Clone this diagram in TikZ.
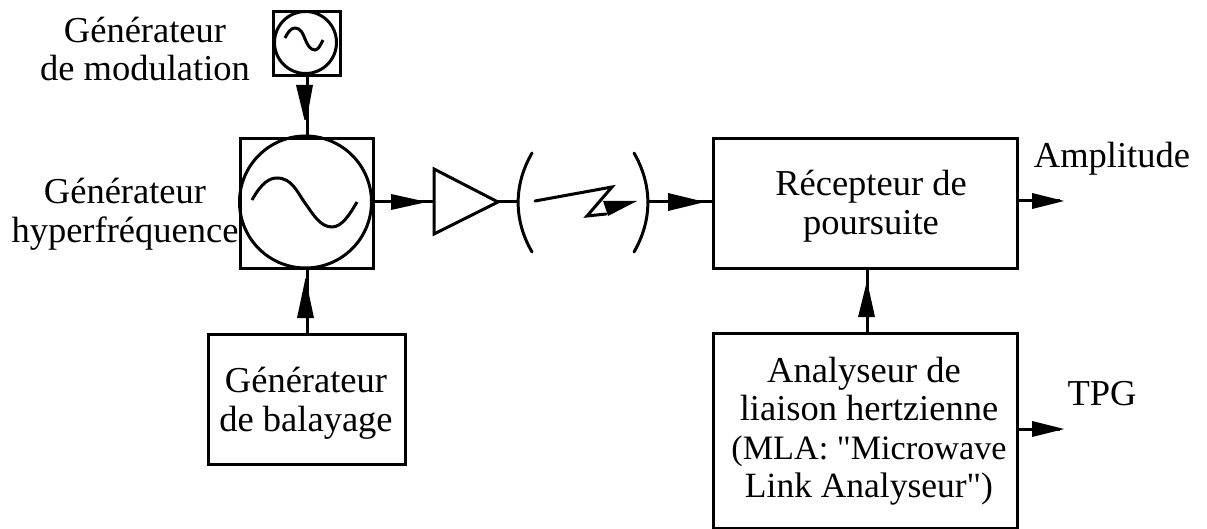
\documentclass[tikz,border=0pt]{standalone}
\usepackage{fontspec}
\setmainfont{Liberation Serif}[Ligatures=TeXOff]
\tikzset{
  every node/.style={font=\fontsize{36.5}{38.5}\selectfont, align=center, inner sep=0pt},
  ln/.style={line width=3pt, line join=miter},
  box/.style={ln, draw, rectangle, anchor=north west},
  osc/.style={ln, draw, circle, inner sep=0pt},
}
\begin{document}
\begin{tikzpicture}[x=1pt,y=-1pt]
\useasboundingbox (0,0) rectangle (1207,529);
\node[box, minimum width=67pt, minimum height=64.5pt] (smallbox) at (272,10) {};
\node[osc, minimum size=62pt] (smallosc) at (305.5,42.5) {};
\draw[ln] (285,38) .. controls (288,32) and (291,28) .. (295,28) .. controls (301,28) and (303,34) .. (305,39) .. controls (307,44) and (310,50) .. (315,50) .. controls (318,50) and (320,46) .. (323,40);
\node[box, minimum width=133pt, minimum height=130pt] (bigbox) at (239,137) {};
\node[osc, minimum size=132pt] (bigosc) at (305.5,202) {};
\draw[ln] (252,200) .. controls (262,182) and (270,178) .. (277,178) .. controls (292,178) and (297,192) .. (305,203) .. controls (313,214) and (320,227) .. (332,227) .. controls (342,227) and (350,214) .. (357,202);
\node[box, minimum width=197pt, minimum height=130pt] (sweep) at (207,333) {};
\node (sweeptxt) at (306,403) {Générateur\\de balayage};
\coordinate (tritop) at (434,169);
\coordinate (tribot) at (434,234);
\coordinate (triout) at (498,202);
\draw[ln] (tritop) -- (triout) -- (tribot) -- cycle;
\draw[ln] (smallbox.south) -- (smallbox.south |- bigbox.north);
\fill (296,85) -- (313,85) -- (306.5,120) -- (304.5,120) -- cycle;
\draw[ln] (sweep.north -| bigbox.south) -- (bigbox.south);
\fill (297,318) -- (314,318) -- (305.5,278) -- cycle;
\draw[ln] (bigbox.east |- bigosc.center) -- (tritop |- bigosc.center);
\fill (391,194) -- (391,210) -- (427,202) -- cycle;
\coordinate (aL) at (519,202);
\coordinate (aR) at (647,202);
\draw[ln] (triout) -- (aL);
\draw[ln, line cap=round] (532,153) .. controls (513.5,185) and (513.5,220) .. (532,252);
\draw[ln, line cap=round] (634,153) .. controls (652.5,185) and (652.5,220) .. (634,252);
\draw[ln, line cap=round] (535,201) -- (612,187) -- (587,216) -- (606,214);
\fill (603,201) -- (637,201) -- (608,216) -- cycle;
\node[box, minimum width=304pt, minimum height=130pt] (recv) at (712,137) {};
\node (recvtxt) at (871,206) {Récepteur de\\poursuite};
\draw[ln] (aR) -- (recv.west |- aR);
\fill (668,193) -- (668,211) -- (705,202) -- cycle;
\node[box, minimum width=304pt, minimum height=195pt] (mla) at (712,332) {};
\node (mlatxt) at (869,431) {Analyseur de\hspace*{10pt}\\liaison hertzienne\\{\fontsize{34.2}{38.5}\selectfont (MLA: "Microwave}\\{\fontsize{35.5}{38.5}\selectfont Link Analyseur")}};
\coordinate (recvin) at (867,267);
\draw[ln] (recv.south -| recvin) -- (mla.north -| recvin);
\fill (858,317) -- (875,317) -- (867,281) -- cycle;
\coordinate (ampend) at (1060,201);
\coordinate (tpgend) at (1060,429);
\draw[ln] (recv.east |- ampend) -- (ampend);
\fill (1032,193) -- (1032,209) -- (1064,201) -- cycle;
\draw[ln] (mla.east |- tpgend) -- (tpgend);
\fill (1032,421) -- (1032,437) -- (1064,429) -- cycle;
\node[anchor=base] (amp) at (1112,168) {Amplitude};
\node[anchor=base] (tpg) at (1102,405) {TPG};
\node (gm) at (145,49) {Générateur\\de modulation};
\node (gh) at (125,214) {Générateur\\hyperfréquence};
\end{tikzpicture}
\end{document}
